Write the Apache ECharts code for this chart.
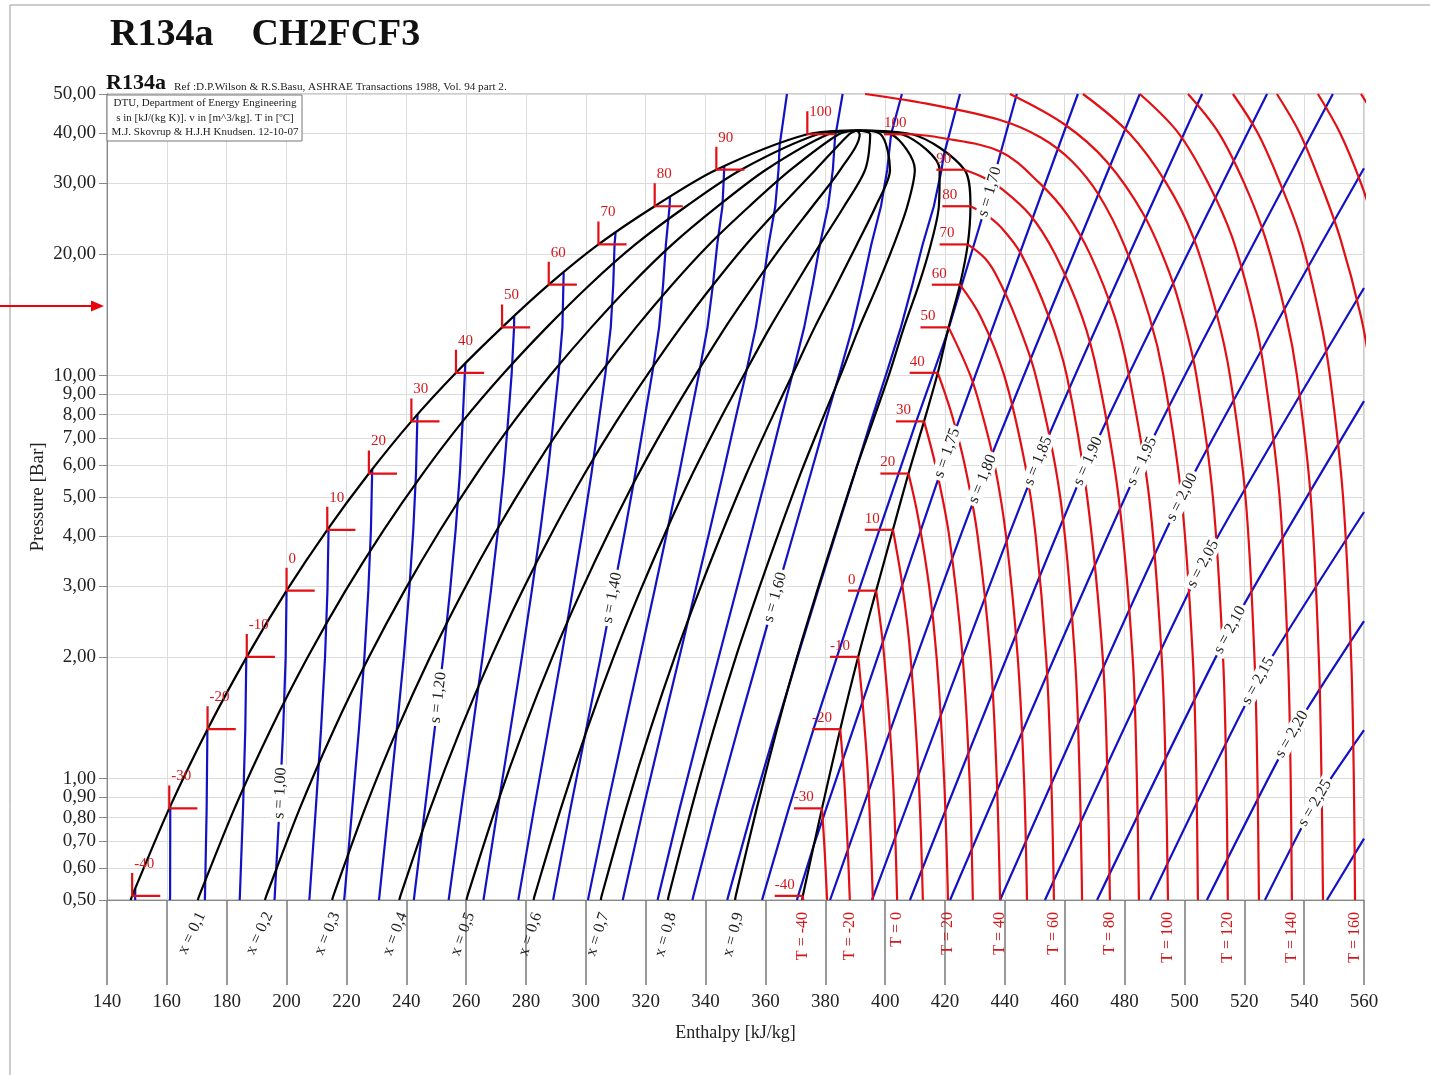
<!DOCTYPE html>
<html><head><meta charset="utf-8"><title>R134a p-h diagram</title>
<script src="https://cdn.jsdelivr.net/npm/echarts@6.0.0/dist/echarts.min.js"></script>
<style>html,body{margin:0;padding:0;background:#fff;}#chart{width:1430px;height:1075px;}</style>
</head><body><div id="chart"></div>
<script>
// ---------------- DATA ----------------
const Y_TICKS = [0.5,0.6,0.7,0.8,0.9,1,2,3,4,5,6,7,8,9,10,20,30,40,50];

// saturation table (first node = bottom edge of the chart, p = 0.5 bar)
const SAT_T  = [-40.4,-40,-30,-20,-10,0,10,20,30,40,50,60,70,80,90,100];
const SAT_P  = [0.5,0.512,0.844,1.327,2.006,2.928,4.146,5.717,7.702,10.166,13.179,16.818,21.168,26.332,32.442,39.724];
const SAT_HL = [147.9,148.4,160.8,173.6,186.7,200.0,213.6,227.5,241.7,256.6,272.0,287.6,304.2,323.0,343.6,374.0];
const SAT_HV = [372.3,372.5,378.9,385.0,391.0,397.0,402.6,407.8,413.0,417.6,421.2,425.0,427.6,428.5,426.5,409.0];
const SAT_SL = [0.7935,0.7956,0.8486,0.9002,0.9506,1.0000,1.0485,1.0963,1.1435,1.1905,1.2376,1.2853,1.3343,1.3859,1.4428,1.5250];
const CRIT   = [101.06, 40.59, 390.5, 1.568];   // T, p, h, s

const QUALITIES = [0.1,0.2,0.3,0.4,0.5,0.6,0.7,0.8,0.9];
const QUALITY_LABEL_ANGLE = [64,65,67,69,70,71,72,74,75];

// isentropes drawn through the two-phase region
const ISEN_2PH = [0.80,0.85,0.90,0.95,1.00,1.05,1.10,1.15,1.20,1.25,1.30,1.35,1.40,1.45,1.50,1.55,1.60,1.65,1.70,1.75];
// their continuation above the dome  [h, p]
const ISEN_EXT_S   = [1.50,1.55,1.60,1.65,1.70,1.75];
const ISEN_EXT_PTS = [
  [[367.2,50]],
  [[385.8,50]],
  [[405.6,50]],
  [[425.0,50]],
  [[435.0,28.6],[444.0,50]],
  [[420.7,6.43],[464.4,50]]
];
// isentropes lying wholly in the superheated region [h, p]
const ISEN_SH_S   = [1.80,1.85,1.90,1.95,2.00,2.05,2.10,2.15,2.20,2.25,2.30];
const ISEN_SH_PTS = [
  [[381.6,0.5],[429.3,4.83],[485.1,50]],
  [[395.6,0.5],[451.1,6.14],[505.9,50]],
  [[408.3,0.5],[467.8,6.14],[527.6,50]],
  [[421.7,0.5],[485.8,6.14],[549.6,50]],
  [[438.4,0.5],[499.2,5.00],[560,32.7]],
  [[453.4,0.5],[506.2,3.41],[560,16.5]],
  [[470.8,0.5],[515.2,2.34],[560,8.65]],
  [[488.5,0.5],[524.6,1.75],[560,4.59]],
  [[507.5,0.5],[535.9,1.29],[560,2.46]],
  [[526.9,0.5],[543.6,0.87],[560,1.32]],
  [[547.6,0.5],[560,0.71]]
];
// isentrope labels: s, pressure where the label sits
const ISEN_LBL_S = [1.00,1.20,1.40,1.60,1.70,1.75,1.80,1.85,1.90,1.95,2.00,2.05,2.10,2.15,2.20,2.25];
const ISEN_LBL_P = [0.92,1.59,2.81,2.82,28.6,6.43,5.54,6.14,6.14,6.14,5.00,3.41,2.34,1.75,1.29,0.87];

// isotherms in the vapour / supercritical region  [h, p]
const ISOT_T = [-40,-30,-20,-10,0,10,20,30,40,50,60,70,80,90,100,110,120,130,140,150,160,170,180,190];
const ISOT_PTS = [
  [[372.5,0.512],[372.6,0.5]],
  [[378.9,0.844],[379.8,0.66],[380.6,0.5]],
  [[385.0,1.327],[386.3,1.0],[387.4,0.7],[388.2,0.5]],
  [[391.0,2.006],[392.6,1.5],[394.3,1.0],[395.9,0.5]],
  [[397.0,2.928],[399.7,2.0],[402.6,1.0],[404.0,0.5]],
  [[402.6,4.146],[405.8,3.0],[408.5,2.0],[411.2,1.0],[412.6,0.5]],
  [[407.8,5.717],[410.9,4.5],[414.7,3.0],[417.2,2.0],[419.7,1.0],[421.0,0.5]],
  [[413.0,7.702],[416.8,6.0],[421.4,4.0],[425.9,2.0],[428.2,1.0],[429.3,0.5]],
  [[417.6,10.166],[422.3,8.0],[426.6,6.0],[430.9,4.0],[435.2,2.0],[437.3,1.0],[438.4,0.5]],
  [[421.2,13.179],[428.5,10.0],[432.5,8.0],[436.6,6.0],[440.4,4.0],[444.3,2.0],[446.4,1.0],[447.4,0.5]],
  [[425.0,16.818],[431.9,14.0],[439.8,10.0],[446.8,6.0],[450.3,4.0],[453.8,2.0],[455.5,1.0],[456.4,0.5]],
  [[427.6,21.168],[433.5,19.5],[437.4,17.6],[443.5,14.0],[450.3,10.0],[458.5,5.0],[463.4,2.0],[465.0,1.0],[465.8,0.5]],
  [[428.5,26.332],[434.0,25.0],[438.8,23.3],[445.5,20.0],[454.7,14.0],[460.7,10.0],[467.5,5.0],[472.7,2.0],[474.3,1.0],[475.1,0.5]],
  [[426.5,32.442],[433.0,31.0],[438.4,29.3],[448.5,25.0],[456.8,20.0],[465.8,14.0],[471.1,10.0],[478.0,5.0],[482.7,2.0],[484.1,1.0],[484.8,0.5]],
  [[409.0,39.724],[418.0,39.0],[438.4,36.0],[451.7,30.0],[461.0,25.0],[468.5,20.0],[476.7,14.0],[481.5,10.0],[488.2,5.0],[492.4,2.0],[493.8,1.0],[494.5,0.5]],
  [[393.3,50],[416.0,47.0],[438.4,43.1],[452.0,39.0],[462.5,34.0],[471.5,28.0],[480.0,21.0],[488.3,14.0],[493.0,10.0],[499.0,5.0],[502.8,2.0],[504.0,1.0],[504.5,0.5]],
  [[441.7,50],[460.0,42.0],[474.0,34.0],[486.5,25.0],[495.0,18.0],[499.5,14.0],[504.0,10.0],[509.5,5.0],[512.9,2.0],[514.0,1.0],[514.5,0.5]],
  [[466.1,50],[481.5,40.0],[494.0,30.0],[503.0,22.0],[511.0,14.0],[515.2,10.0],[520.4,5.0],[523.4,2.0],[524.4,1.0],[524.9,0.5]],
  [[485.1,50],[498.0,40.0],[508.0,30.0],[516.0,22.0],[523.3,14.0],[526.9,10.0],[531.8,5.0],[534.6,2.0],[535.5,1.0],[535.9,0.5]],
  [[501.2,50],[511.5,40.0],[520.0,30.0],[527.0,22.0],[534.0,14.0],[537.6,10.0],[542.2,5.0],[544.9,2.0],[545.8,1.0],[546.3,0.5]],
  [[516.2,50],[524.5,40.0],[532.0,30.0],[538.8,22.0],[545.2,14.0],[548.6,10.0],[553.0,5.0],[555.7,2.0],[556.6,1.0],[557.0,0.5]],
  [[530.9,50],[538.5,40.0],[545.5,30.0],[552.0,22.0],[559.0,14.0],[562.5,10.0]],
  [[544.6,50],[552.0,40.0],[559.0,30.0],[565.0,22.0]],
  [[559.0,50],[563.0,45.0]]
];
const ISOT_LABEL_T = [-40,-20,0,20,40,60,80,100,120,140,160];

// ---------------- STYLE ----------------
const FONT = '"Liberation Serif","Times New Roman",serif';
const RED = '#e20f14', BLUE = '#1212c4', BLACK = '#000', TXTRED = '#d2181c';
const LW = 2.2;
const MARK_DH = 9.4;     // length of the horizontal saturation tick (kJ/kg)
const MARK_PF = 1.14;    // length of the vertical liquid tick (pressure factor)

// ---------------- BUILD ----------------
const nodes = SAT_T.map((T,i)=>({T:T, p:SAT_P[i], hl:SAT_HL[i], hv:SAT_HV[i], sl:SAT_SL[i]}));
nodes.push({T:CRIT[0], p:CRIT[1], hl:CRIT[2], hv:CRIT[2], sl:CRIT[3]});

function gm(a,b,t){ return a*Math.pow(b/a,t); }

function isentrope(s){
  const pts = [];
  for (let i=0;i<nodes.length;i++){
    const n = nodes[i], Tk = n.T+273.15;
    const h = n.hl + Tk*(s-n.sl);
    const liqOut = s < n.sl - 1e-9, vapOut = h > n.hv + 1e-9;
    if (!liqOut && !vapOut){ pts.push([h,n.p]); continue; }
    if (i===0) break;
    const m = nodes[i-1], Tm = m.T+273.15;
    let t, he;
    if (liqOut){ t = (s-m.sl)/(n.sl-m.sl); he = m.hl + t*(n.hl-m.hl); }
    else { const fm = m.hl + Tm*(s-m.sl) - m.hv, fn = h - n.hv; t = -fm/(fn-fm); he = m.hv + t*(n.hv-m.hv); }
    pts.push([he, gm(m.p,n.p,t)]);
    break;
  }
  return pts;
}

const series = [];
function addLine(pts, color, width, smooth, z){
  series.push({type:'line', data:pts, symbol:'none', showSymbol:false, silent:true, animation:false,
    smooth:smooth, lineStyle:{color:color, width:width}, z:z, clip:true, emphasis:{disabled:true}});
}

// isentropes (blue)
const isenLines = [];
ISEN_2PH.forEach(s=>{
  let pts = isentrope(s);
  const k = ISEN_EXT_S.indexOf(s);
  if (k>=0) pts = pts.concat(ISEN_EXT_PTS[k]);
  isenLines.push({s:s, pts:pts});
  addLine(pts, BLUE, LW, false, 2);
});
ISEN_SH_S.forEach((s,k)=>{ isenLines.push({s:s, pts:ISEN_SH_PTS[k]}); addLine(ISEN_SH_PTS[k], BLUE, LW, 0.2, 2); });

// saturation dome (black)
const dome = nodes.map(n=>[n.hl,n.p]).concat(nodes.slice(0,-1).reverse().map(n=>[n.hv,n.p]));
addLine(dome, BLACK, LW, 0.3, 3);
// quality lines
const qualityLines = QUALITIES.map(q=> nodes.map(n=>[n.hl + q*(n.hv-n.hl), n.p]));
qualityLines.forEach(pts=> addLine(pts, BLACK, LW, 0.3, 3));

// isotherms (red)
ISOT_PTS.forEach(pts=> addLine(pts, RED, LW, 0.35, 4));
// saturation markers
for (let i=1;i<SAT_T.length;i++){
  addLine([[SAT_HL[i],SAT_P[i]*MARK_PF],[SAT_HL[i],SAT_P[i]],[SAT_HL[i]+MARK_DH,SAT_P[i]]], RED, LW, false, 5);
  addLine([[SAT_HV[i]-MARK_DH,SAT_P[i]],[SAT_HV[i],SAT_P[i]]], RED, LW, false, 5);
}

const chart = echarts.init(document.getElementById('chart'), null, {renderer:'canvas'});
const axisTxt = {fontFamily:FONT, fontSize:19, color:'#222'};
chart.setOption({
  animation:false,
  backgroundColor:'#fff',
  grid:{left:107, right:66, top:94, bottom:175, show:true, borderColor:'#9a9a9a', borderWidth:1},
  xAxis:{type:'value', min:140, max:560, interval:20,
    axisLine:{show:true, lineStyle:{color:'#888'}},
    axisTick:{show:true, length:85, lineStyle:{color:'#7a7a7a', width:1.5}},
    axisLabel:Object.assign({margin:93}, axisTxt),
    splitLine:{show:true, lineStyle:{color:'#dcdcdc', width:1}},
    name:'Enthalpy [kJ/kg]', nameLocation:'middle', nameGap:124,
    nameTextStyle:{fontFamily:FONT, fontSize:18, color:'#222'}},
  yAxis:{type:'log', logBase:10, min:0.5, max:50,
    axisLine:{show:true, lineStyle:{color:'#888'}},
    axisTick:{show:true, length:8, customValues:Y_TICKS, lineStyle:{color:'#888'}},
    axisLabel:Object.assign({customValues:Y_TICKS, margin:11,
      formatter:v=> Number(v).toFixed(2).replace('.',',')}, axisTxt),
    splitLine:{show:true, lineStyle:{color:'#dcdcdc', width:1}},
    minorSplitLine:{show:false}},
  series:series
});

// ---------------- TEXT LABELS ----------------
function px(h,p){ return chart.convertToPixel({xAxisIndex:0, yAxisIndex:0},[h,p]); }
function hAtP(pts,p){
  const lp = Math.log(p);
  for (let i=0;i<pts.length-1;i++){
    const la = Math.log(pts[i][1]), lb = Math.log(pts[i+1][1]);
    if (la!==lb && (lp-la)*(lp-lb) <= 0){ const t=(lp-la)/(lb-la); return pts[i][0]+t*(pts[i+1][0]-pts[i][0]); }
  }
  return null;
}
function T(x,y,text,style,rot){
  return {type:'text', x:x, y:y, rotation:rot||0, z:100, silent:true,
    style:Object.assign({text:text, fontFamily:FONT, fontSize:15, fill:'#222', align:'left', verticalAlign:'middle'}, style||{})};
}
const g = [];
// page frame + arrow
g.push({type:'line', shape:{x1:10,y1:5,x2:10,y2:1075}, style:{stroke:'#999', lineWidth:1}, silent:true});
g.push({type:'line', shape:{x1:10,y1:5,x2:1430,y2:5}, style:{stroke:'#999', lineWidth:1}, silent:true});
g.push({type:'line', shape:{x1:0,y1:306,x2:94,y2:306}, style:{stroke:'#e8000b', lineWidth:2}, silent:true});
g.push({type:'polygon', shape:{points:[[104,306],[91,300.5],[91,311.5]]}, style:{fill:'#e8000b'}, silent:true});
// titles
g.push(T(110,35,'R134a    CH2FCF3',{fontSize:38, fontWeight:'bold', fill:'#111'}));
g.push(T(106,83,'R134a',{fontSize:22, fontWeight:'bold', fill:'#111'}));
g.push(T(174,87,'Ref :D.P.Wilson & R.S.Basu, ASHRAE Transactions 1988, Vol. 94 part 2.',{fontSize:11.2, fill:'#222'}));
g.push({type:'rect', shape:{x:107,y:95,width:195,height:46}, style:{fill:'#fff', stroke:'#777', lineWidth:1}, z:99, silent:true});
g.push(T(205,103,'DTU, Department of Energy Engineering',{fontSize:11, align:'center'}));
g.push(T(205,118,'s in [kJ/(kg K)]. v in [m^3/kg]. T in [\u00baC]',{fontSize:11, align:'center'}));
g.push(T(205,132,'M.J. Skovrup & H.J.H Knudsen. 12-10-07',{fontSize:11, align:'center'}));
// y axis name
g.push(T(38,497,'Pressure [Bar]',{fontSize:19, align:'center'}, Math.PI/2));

// saturation temperature labels
for (let i=1;i<SAT_T.length;i++){
  const a = px(SAT_HL[i], SAT_P[i]);
  const dy = (i === SAT_T.length-1) ? -22 : -32;
  g.push(T(a[0]+2, a[1]+dy, String(SAT_T[i]), {fill:TXTRED, fontSize:15}));
  const b = px(SAT_HV[i]-MARK_DH, SAT_P[i]);
  g.push(T(b[0], b[1]-11, String(SAT_T[i]), {fill:TXTRED, fontSize:15}));
}
// isentrope labels
ISEN_LBL_S.forEach((s,k)=>{
  const line = isenLines.find(o=>Math.abs(o.s-s)<1e-6);
  const p = ISEN_LBL_P[k];
  const h = hAtP(line.pts, p);
  if (h===null) return;
  const c = px(h,p);
  const h1 = hAtP(line.pts, p/1.08) ?? h, h2 = hAtP(line.pts, p*1.08) ?? h;
  const a1 = px(h1, p/1.08), a2 = px(h2, p*1.08);
  const ang = Math.atan2(a1[1]-a2[1], a2[0]-a1[0]);
  g.push(T(c[0], c[1], 's = '+s.toFixed(2).replace('.',','),
    {fontSize:16, align:'center', backgroundColor:'#fff', padding:[0,3]}, ang));
});
// quality labels below the axis
QUALITIES.forEach((q,k)=>{
  const pts = qualityLines[k];
  const c = px(pts[0][0], pts[0][1]);
  g.push(T(c[0]+4, c[1]+13, 'x = '+String(q).replace('.',','),
    {fontSize:16, align:'right'}, QUALITY_LABEL_ANGLE[k]*Math.PI/180));
});
// isotherm labels below the axis
ISOT_LABEL_T.forEach(t=>{
  const pts = ISOT_PTS[ISOT_T.indexOf(t)];
  const last = pts[pts.length-1];
  const c = px(last[0], last[1]);
  g.push(T(c[0], c[1]+12, 'T = '+t, {fontSize:16, align:'right', fill:TXTRED}, Math.PI/2));
});
chart.setOption({graphic:g});
</script></body></html>
